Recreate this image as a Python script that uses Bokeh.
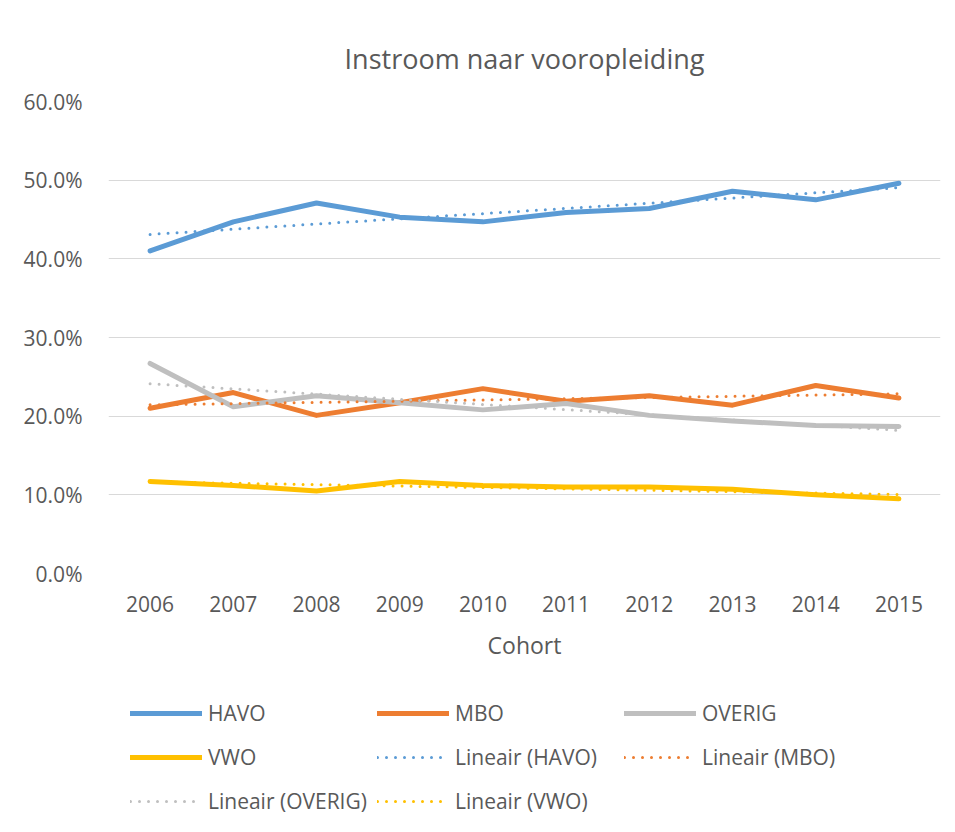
import numpy as np
from bokeh.plotting import figure
from bokeh.layouts import column
from bokeh.models import (Legend, LegendItem, FixedTicker, NumeralTickFormatter, Range1d)
from bokeh.embed import file_html
from bokeh.resources import INLINE

years = [2006, 2007, 2008, 2009, 2010, 2011, 2012, 2013, 2014, 2015]
havo = [0.410, 0.447, 0.471, 0.453, 0.447, 0.459, 0.464, 0.486, 0.475, 0.496]
mbo = [0.210, 0.230, 0.201, 0.217, 0.235, 0.219, 0.226, 0.214, 0.239, 0.223]
overig = [0.267, 0.212, 0.226, 0.217, 0.208, 0.216, 0.201, 0.194, 0.188, 0.187]
vwo = [0.117, 0.112, 0.105, 0.117, 0.112, 0.110, 0.110, 0.107, 0.100, 0.095]
y_ticks = [0.0, 0.1, 0.2, 0.3, 0.4, 0.5, 0.6]

series_names = ["HAVO", "MBO", "OVERIG", "VWO"]
series_vals = [havo, mbo, overig, vwo]
colors = ["#5B9BD5", "#ED7D31", "#BFBFBF", "#FFC000"]

TEXT = "#595959"
FONT = "Open Sans"
W = 948
H1 = 665
H2 = 167

p = figure(width=W, height=H1, output_backend="svg", toolbar_location=None,
           x_range=Range1d(2005.5, 2015.5), y_range=Range1d(0, 0.6),
           min_border_left=108, min_border_right=8, min_border_top=101,
           min_border_bottom=H1 - 573,
           title="Instroom naar vooropleiding")
p.outline_line_color = None
p.background_fill_color = "white"
p.border_fill_color = "white"

p.title.align = "center"
p.title.text_font = FONT
p.title.text_font_size = "27px"
p.title.text_font_style = "normal"
p.title.text_color = TEXT
p.title.standoff = 50

p.xgrid.grid_line_color = None
p.ygrid.grid_line_color = "#D9D9D9"
p.ygrid.grid_line_width = 1

p.yaxis.ticker = FixedTicker(ticks=y_ticks)
p.yaxis.formatter = NumeralTickFormatter(format="0.0%")
p.xaxis.ticker = FixedTicker(ticks=years)
p.xaxis.axis_label = "Cohort"
for ax in (p.xaxis[0], p.yaxis[0]):
    ax.axis_line_color = None
    ax.major_tick_line_color = None
    ax.minor_tick_line_color = None
    ax.major_label_text_font = FONT
    ax.major_label_text_font_size = "21px"
    ax.major_label_text_color = TEXT
    ax.axis_label_text_font = FONT
    ax.axis_label_text_font_size = "23px"
    ax.axis_label_text_font_style = "normal"
    ax.axis_label_text_color = TEXT
p.yaxis.major_label_standoff = 20
p.xaxis.major_label_standoff = 16
p.xaxis.axis_label_standoff = 14

xs = np.array(years, dtype=float)
main_style = dict(line_width=5, line_cap="round", line_join="round")
trend_style = dict(line_width=3, line_cap="round", line_dash="0 9")
for name, vals, c in zip(series_names, series_vals, colors):
    p.line(years, vals, line_color=c, **main_style)
for name, vals, c in zip(series_names, series_vals, colors):
    k, b = np.polyfit(xs - xs[0], np.array(vals), 1)
    tx = [years[0], years[-1]]
    ty = [b, b + k * (years[-1] - years[0])]
    p.line(tx, ty, line_color=c, **trend_style)

# legend panel (its renderers lie outside the visible range; only their legend glyphs show)
p2 = figure(width=W, height=H2, output_backend="svg", toolbar_location=None,
            x_range=Range1d(0, 1), y_range=Range1d(0, 1),
            x_axis_type=None, y_axis_type=None,
            min_border_left=0, min_border_right=0, min_border_top=0, min_border_bottom=0)
p2.outline_line_color = None
p2.grid.visible = False
p2.border_fill_color = "white"

off_x = [5, 6]
off_y = [5, 5]
lm = {}
lt = {}
for name, c in zip(series_names, colors):
    lm[name] = p2.line(off_x, off_y, line_color=c, **main_style)
for name, c in zip(series_names, colors):
    lt[name] = p2.line(off_x, off_y, line_color=c, **trend_style)

items = [LegendItem(label="HAVO", renderers=[lm["HAVO"]]),
         LegendItem(label="MBO", renderers=[lm["MBO"]]),
         LegendItem(label="OVERIG", renderers=[lm["OVERIG"]]),
         LegendItem(label="VWO", renderers=[lm["VWO"]]),
         LegendItem(label="Lineair (HAVO)", renderers=[lt["HAVO"]]),
         LegendItem(label="Lineair (MBO)", renderers=[lt["MBO"]]),
         LegendItem(label="Lineair (OVERIG)", renderers=[lt["OVERIG"]]),
         LegendItem(label="Lineair (VWO)", renderers=[lt["VWO"]])]

legend = Legend(items=items, orientation="horizontal", ncols=3, location=(22, 9),
                glyph_width=72, glyph_height=44, label_standoff=6, label_width=169,
                label_height=44, spacing=0, padding=0, margin=0,
                border_line_color=None, background_fill_alpha=0,
                label_text_font=FONT, label_text_font_size="21px", label_text_color=TEXT)
p2.add_layout(legend, "center")

layout = column(p, p2, spacing=0)
open("out.html", "w").write(file_html(layout, INLINE))
